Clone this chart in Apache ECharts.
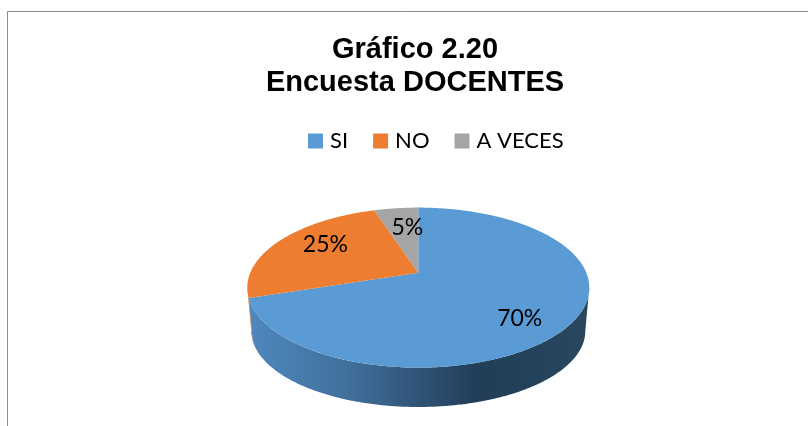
<!DOCTYPE html>
<html><head><meta charset="utf-8">
<style>html,body{margin:0;padding:0;background:#fff}#c{width:808px;height:426px}</style>
<script src="https://cdn.jsdelivr.net/npm/echarts@6/dist/echarts.min.js"></script>
</head><body><div id="c"></div>
<script>
const categories = ['SI', 'NO', 'A VECES'];
const values = [70, 25, 5];
const titleLines = ['Gráfico 2.20', 'Encuesta DOCENTES'];
const faceColors = ['#5B9BD5', '#ED7D31', '#A5A5A5'];

// drawing of the tilted disc
const CX = 418.3, TOP_CY = 287.6, TOP_RX = 171, TOP_RY = 80;
const BOT_CY = 331, BOT_RX = 167, BOT_RY = 76;
const TILT = 0.186;
const labelRadius = [0.69, 0.655, 0.45];
const labelShift = [12, -6, -13.5];

const total = values.reduce((a, b) => a + b, 0);
const ang = v => v / total * 2 * Math.PI;
function project(r, th, cy, rx, ry) {
  const u = r * Math.sin(th), v = r * Math.cos(th);
  const d = 1 + TILT * v, k = rx * Math.sqrt(1 - TILT * TILT);
  return [CX + k * u / d, cy + (-TILT * ry - ry * v) / d];
}
const topPt = (r, th) => project(r, th, TOP_CY, TOP_RX, TOP_RY);
const botPt = th => project(1, th, BOT_CY, BOT_RX, BOT_RY);
function arc(fn, a, b) {
  const n = Math.max(2, Math.ceil((b - a) / 0.01)), out = [];
  for (let i = 0; i <= n; i++) out.push(fn(a + (b - a) * i / n));
  return out;
}
const SIDE_A = Math.acos(-TILT), SIDE_B = 2 * Math.PI - SIDE_A;
const sideFill = [
  { type: 'linear', x: 250, y: 0, x2: 586, y2: 0, global: true, colorStops: [
    { offset: 0, color: '#4f87bd' }, { offset: 0.28, color: '#41719e' },
    { offset: 0.68, color: '#213d57' }, { offset: 1, color: '#29475f' } ] },
  '#b9652b', '#7d7d7d'
];

function renderSlice(idx) {
  return function () {
    const start = values.slice(0, idx).reduce((s, v) => s + ang(v), 0);
    const end = start + ang(values[idx]);
    const children = [];
    const a = Math.max(start, SIDE_A), b = Math.min(end, SIDE_B);
    if (b > a) {
      const pts = arc(t => topPt(1, t), a, b).concat(arc(botPt, a, b).reverse());
      children.push({ type: 'polygon', shape: { points: pts }, style: { fill: sideFill[idx] } });
    }
    const face = [topPt(0, 0)].concat(arc(t => topPt(1, t), start, end));
    children.push({ type: 'polygon', shape: { points: face }, style: { fill: faceColors[idx] } });
    const p = topPt(labelRadius[idx], (start + end) / 2);
    children.push({ type: 'text', z2: 10, style: {
      text: Math.round(values[idx] / total * 100) + '%',
      x: p[0], y: p[1] + labelShift[idx], align: 'center', verticalAlign: 'middle',
      font: '23px Lato', fill: '#000' } });
    return { type: 'group', children };
  };
}

const chart = echarts.init(document.getElementById('c'), null, { renderer: 'canvas' });
chart.setOption({
  animation: false,
  backgroundColor: '#fff',
  title: { text: titleLines.join('\n'), left: 415, top: 33, textAlign: 'center',
    padding: 0,
    textStyle: { fontFamily: 'Liberation Sans', fontWeight: 'bold', fontSize: 29, lineHeight: 33, color: '#000' } },
  legend: { left: 308, top: 130, padding: 0, icon: 'rect', itemWidth: 15, itemHeight: 15, itemGap: 25,
    data: categories, selectedMode: false,
    textStyle: { fontFamily: 'Lato', fontSize: 22, color: '#000', padding: [0, 0, 0, 2] } },
  graphic: [
    { type: 'line', silent: true, shape: { x1: 7.5, y1: 11.5, x2: 808, y2: 11.5 }, style: { stroke: '#8c8c8c', lineWidth: 1 } },
    { type: 'line', silent: true, shape: { x1: 7.5, y1: 11.5, x2: 7.5, y2: 426 }, style: { stroke: '#8c8c8c', lineWidth: 1 } }
  ],
  series: categories.map((name, i) => ({
    type: 'custom', name, coordinateSystem: 'none', silent: true,
    itemStyle: { color: faceColors[i] },
    data: [values[i]],
    renderItem: renderSlice(i)
  }))
});
</script></body></html>
